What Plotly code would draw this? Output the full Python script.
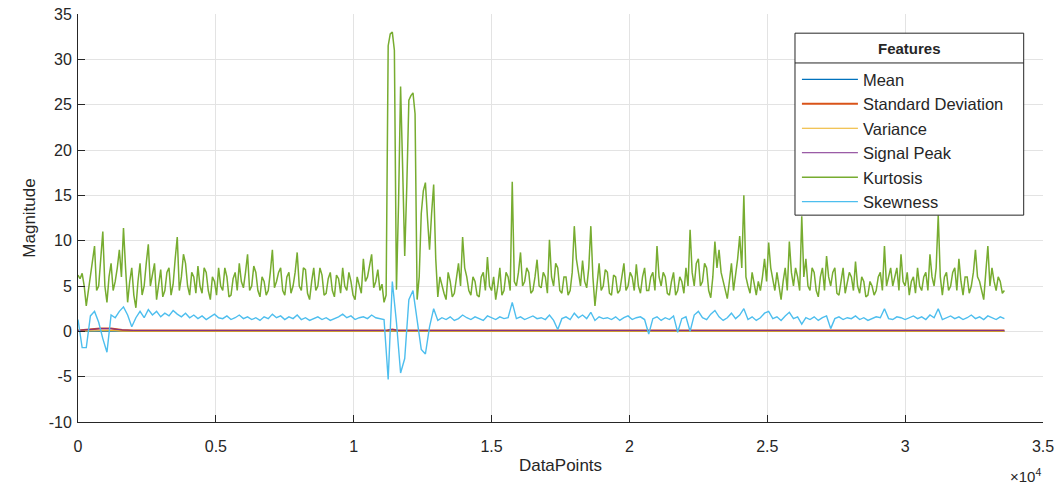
import numpy as np
import plotly.graph_objects as go

# ---- data ----
kurt_step = 75   # data-point spacing of the kurtosis samples
kurtosis = [
    6.2, 5.8, 6.4, 5.0, 2.8, 4.5, 6.0, 7.5, 9.4, 4.5, 5.0, 8.0, 11.0, 5.0, 3.2, 6.0, 7.5, 4.5, 5.5, 7.0,
    9.0, 6.0, 11.4, 7.0, 3.2, 5.5, 7.0, 4.0, 2.6, 5.5, 7.5, 4.0, 5.0, 7.5, 9.6, 5.0, 6.5, 7.5, 3.5, 5.5,
    6.8, 3.8, 4.5, 6.5, 7.0, 4.0, 5.2, 8.0, 10.4, 4.5, 6.0, 8.5, 7.5, 5.0, 4.0, 6.5, 6.0, 4.2, 7.2, 5.0,
    4.2, 7.0, 6.5, 4.5, 3.5, 6.0, 5.5, 4.0, 7.0, 5.0, 4.5, 7.0, 6.0, 3.8, 4.0, 5.8, 6.5, 4.5, 7.5, 5.5,
    4.8, 6.5, 8.5, 4.5, 5.0, 7.2, 6.5, 4.5, 3.8, 6.0, 5.5, 4.0, 4.5, 6.5, 9.0, 4.8, 5.5, 6.5, 7.0, 4.5,
    4.0, 6.0, 6.5, 4.2, 5.0, 6.5, 8.7, 5.0, 4.5, 7.0, 6.8, 4.2, 3.5, 5.5, 7.0, 4.5, 5.0, 7.0, 6.2, 4.0,
    4.2, 5.8, 6.5, 4.5, 3.8, 6.2, 5.8, 4.2, 7.0, 5.0, 4.5, 6.5, 5.5, 4.0, 3.5, 6.0, 5.0, 4.2, 8.0, 5.5,
    6.0, 7.5, 8.5, 4.8, 5.5, 6.8, 4.5, 5.2, 3.2, 4.0, 31.5, 32.8, 33.0, 31.0, 4.6, 14.0, 27.0, 18.0, 8.3, 16.0,
    25.5, 26.0, 26.3, 24.0, 3.5, 6.0, 13.0, 15.5, 16.4, 12.5, 9.0, 13.0, 16.2, 8.0, 3.8, 6.0, 5.0, 4.2, 3.5, 6.5,
    5.5, 3.8, 4.2, 6.0, 7.5, 5.0, 10.4, 7.0, 6.0, 4.5, 4.0, 6.0, 5.5, 4.0, 3.8, 6.0, 6.5, 4.5, 8.2, 5.0,
    4.5, 6.0, 3.5, 5.0, 7.0, 4.0, 4.5, 6.5, 6.0, 4.5, 16.5, 5.5, 5.0, 6.5, 8.7, 5.0, 5.5, 7.0, 6.5, 4.2,
    4.5, 6.0, 7.9, 5.0, 4.8, 6.5, 6.0, 4.2, 10.1, 6.0, 5.0, 7.5, 7.0, 4.5, 4.2, 6.0, 6.0, 4.0, 4.5, 6.5,
    11.6, 8.0, 6.5, 5.0, 7.8, 5.5, 4.8, 7.0, 11.6, 6.0, 2.8, 5.5, 7.5, 4.5, 5.0, 6.8, 6.5, 4.2, 4.0, 6.2,
    6.0, 4.2, 4.5, 6.0, 7.5, 4.5, 5.0, 6.5, 6.0, 4.5, 7.4, 5.0, 4.2, 6.0, 7.0, 4.5, 4.5, 6.0, 6.5, 4.5,
    9.4, 6.0, 5.0, 6.5, 6.0, 4.2, 4.0, 5.5, 6.5, 4.0, 4.5, 6.0, 5.5, 4.2, 7.0, 5.0, 11.2, 6.5, 5.0, 7.5,
    8.0, 5.0, 5.5, 7.5, 7.0, 4.5, 3.7, 6.0, 9.9, 7.0, 9.0, 6.5, 5.5, 4.5, 3.6, 5.5, 7.5, 4.5, 6.0, 8.0,
    10.5, 7.0, 15.0, 6.0, 5.0, 4.2, 6.5, 5.0, 4.0, 5.5, 4.5, 6.0, 8.0, 5.5, 9.8, 7.0, 5.5, 4.5, 6.5, 5.0,
    3.5, 5.5, 7.0, 4.5, 9.9, 6.5, 5.0, 7.0, 6.0, 4.5, 12.7, 6.0, 8.0, 5.0, 4.5, 7.0, 6.5, 4.5, 3.8, 6.0,
    7.0, 4.5, 8.3, 6.0, 5.0, 6.5, 7.0, 4.2, 4.0, 5.5, 7.0, 4.2, 5.5, 6.5, 6.0, 4.5, 7.7, 5.0, 4.2, 6.0,
    5.5, 3.8, 4.0, 5.5, 5.0, 4.0, 4.5, 6.0, 6.5, 4.5, 9.4, 5.0, 6.0, 7.0, 5.0, 6.0, 7.0, 4.5, 8.5, 5.5,
    5.0, 6.5, 4.0, 5.5, 6.0, 4.2, 7.0, 5.0, 4.5, 6.0, 6.5, 4.5, 8.5, 6.0, 5.0, 7.0, 12.8, 6.0, 4.0, 6.0,
    6.5, 4.5, 5.0, 6.5, 7.0, 4.5, 8.0, 5.5, 4.0, 6.0, 6.0, 4.2, 5.0, 6.5, 9.0, 6.0, 5.5, 4.5, 3.5, 6.5,
    9.4, 5.0, 7.0, 5.5, 4.5, 6.0, 5.5, 4.2, 4.5,
]

skew_step = 150  # data-point spacing of the skewness samples
skewness = [
    1.3, -1.8, -1.8, 1.7, 2.2, 1.0, -0.8, -2.3, 1.8, 1.5,
    2.2, 2.7, 1.8, 0.5, 1.5, 2.2, 1.5, 2.4, 1.8, 2.2,
    1.6, 2.0, 1.7, 2.3, 1.9, 1.6, 2.0, 1.5, 1.8, 1.4,
    1.7, 1.3, 1.6, 1.9, 1.5, 1.4, 1.7, 1.3, 1.5, 1.8,
    1.4, 1.6, 1.3, 1.5, 1.2, 1.6, 1.4, 1.9, 1.5, 1.7,
    1.3, 1.6, 1.4, 1.8, 1.3, 1.5, 1.2, 1.4, 1.6, 1.3,
    1.5, 1.2, 1.4, 1.6, 1.9, 1.5, 1.7, 1.3, 1.5, 1.6,
    1.4, 1.8, 1.5, 1.4, 1.3, -5.3, 5.5, 1.0, -4.6, -3.0,
    3.5, 4.5, 1.0, -2.0, -2.5, 0.5, 2.5, 1.2, 1.5, 1.3,
    1.6, 1.2, 1.4, 1.8, 1.5, 1.3, 1.6, 1.4, 1.2, 1.7,
    1.5, 1.3, 1.6, 1.4, 1.5, 3.2, 1.4, 1.6, 1.3, 1.5,
    1.7, 1.4, 1.5, 1.3, 1.8, 1.2, 0.2, 1.4, 1.6, 1.3,
    2.0, 1.5, 1.8, 1.4, 2.1, 1.2, 1.6, 1.4, 1.5, 1.3,
    1.6, 1.2, 1.5, 1.7, 1.3, 1.5, 1.6, 1.3, -0.3, 1.4,
    1.6, 1.2, 1.5, 1.3, 1.7, -0.1, 1.4, 1.6, 0.0, 1.8,
    2.2, 1.5, 1.3, 1.9, 2.3, 1.6, 1.2, 1.5, 2.0, 1.4,
    1.8, 2.5, 1.3, 1.6, 1.2, 1.5, 2.0, 2.2, 1.4, 1.6,
    1.2, 1.7, 2.1, 1.4, 1.6, 0.8, 1.5, 1.3, 1.6, 1.2,
    1.5, 1.7, 0.3, 1.4, 1.6, 1.3, 1.5, 1.4, 1.7, 1.3,
    1.5, 1.2, 1.4, 1.6, 1.5, 2.5, 1.4, 1.3, 1.6, 1.5,
    1.3, 1.5, 1.7, 1.4, 1.6, 1.3, 1.8, 1.5, 2.5, 1.3,
    1.5, 1.7, 1.4, 1.6, 1.3, 1.5, 1.8, 1.4, 1.6, 1.3,
    1.7, 1.5, 1.3, 1.6, 1.4,
]

small_x = [0, 400, 800, 1200, 1600, 2000, 11200, 11400, 11600, 33600]
mean_vals = [0.00, 0.02, 0.05, 0.05, 0.02, 0.00, 0.00, 0.05, 0.00, 0.00]
std_vals = [0.10, 0.20, 0.30, 0.30, 0.15, 0.10, 0.10, 0.20, 0.10, 0.10]
var_vals = [0.01, 0.04, 0.09, 0.09, 0.02, 0.01, 0.01, 0.04, 0.01, 0.01]
peak_vals = [0.10, 0.20, 0.30, 0.30, 0.15, 0.10, 0.10, 0.20, 0.10, 0.10]

x_ticks = [0, 5000, 10000, 15000, 20000, 25000, 30000, 35000]
x_tick_text = ["0", "0.5", "1", "1.5", "2", "2.5", "3", "3.5"]
y_ticks = [-10, -5, 0, 5, 10, 15, 20, 25, 30, 35]
y_tick_text = ["-10", "-5", "0", "5", "10", "15", "20", "25", "30", "35"]

x_kurt = np.arange(len(kurtosis)) * kurt_step
x_skew = np.arange(len(skewness)) * skew_step

series = [
    ("Mean", small_x, mean_vals, "#0072BD", 1.2),
    ("Standard Deviation", small_x, std_vals, "#D95319", 2.0),
    ("Variance", small_x, var_vals, "#EDB120", 1.2),
    ("Signal Peak", small_x, peak_vals, "#7E2F8E", 1.0),
    ("Kurtosis", x_kurt, kurtosis, "#77AC30", 1.5),
    ("Skewness", x_skew, skewness, "#4DBEEE", 1.4),
]

fig = go.Figure()
for name, xs, ys, col, w in series:
    fig.add_trace(go.Scatter(x=xs, y=ys, mode="lines", name=name,
                             line=dict(color=col, width=w)))

FONT = "Liberation Sans, Arial, sans-serif"
DARK = "#262626"
axis_common = dict(
    showgrid=True, gridcolor="#e3e3e3", gridwidth=1,
    showline=True, linecolor=DARK, linewidth=1,
    ticks="inside", ticklen=7, tickcolor=DARK, tickwidth=1,
    zeroline=False, mirror=False, automargin=False,
    tickfont=dict(family=FONT, size=16, color=DARK),
)

fig.update_layout(
    width=1062, height=489,
    margin=dict(l=78, r=19, t=14, b=67),
    paper_bgcolor="white", plot_bgcolor="white",
    font=dict(family=FONT, color=DARK),
    xaxis=dict(range=[0, 35000], tickvals=x_ticks, ticktext=x_tick_text,
               ticklabelstandoff=10,
               title=dict(text="DataPoints", font=dict(size=17, color=DARK), standoff=4),
               **axis_common),
    yaxis=dict(range=[-10, 35], tickvals=y_ticks, ticktext=y_tick_text,
               ticklabelstandoff=2,
               title=dict(text="Magnitude", font=dict(size=17, color=DARK), standoff=8),
               **axis_common),
    legend=dict(
        x=0.745, y=0.882, xanchor="left", yanchor="top",
        bgcolor="rgba(0,0,0,0)", borderwidth=0,
        font=dict(family=FONT, size=16.5, color=DARK),
        itemwidth=56, tracegroupgap=0,
    ),
    showlegend=True,
)

# legend box with a title row (MATLAB style)
box_x0, box_x1 = 0.743, 0.980
box_y0, box_y1 = 0.507, 0.953
sep_y = 0.880
fig.add_shape(type="rect", xref="paper", yref="paper",
              x0=box_x0, x1=box_x1, y0=box_y0, y1=box_y1,
              line=dict(color=DARK, width=1), fillcolor="white", layer="above")
fig.add_shape(type="line", xref="paper", yref="paper",
              x0=box_x0, x1=box_x1, y0=sep_y, y1=sep_y,
              line=dict(color=DARK, width=1), layer="above")
fig.add_annotation(
    text="<b>Features</b>", xref="paper", yref="paper",
    x=(box_x0 + box_x1) / 2, y=(box_y1 + sep_y) / 2,
    xanchor="center", yanchor="middle", showarrow=False,
    font=dict(family=FONT, size=15, color=DARK),
)

fig.add_annotation(
    text="×10<sup>4</sup>", xref="paper", yref="paper", x=1.0, y=-0.13,
    xanchor="right", yanchor="middle", showarrow=False,
    font=dict(family=FONT, size=15, color=DARK),
)

fig.write_html("out.html", config={"displayModeBar": False},
               post_script="document.body.style.margin='0';")
